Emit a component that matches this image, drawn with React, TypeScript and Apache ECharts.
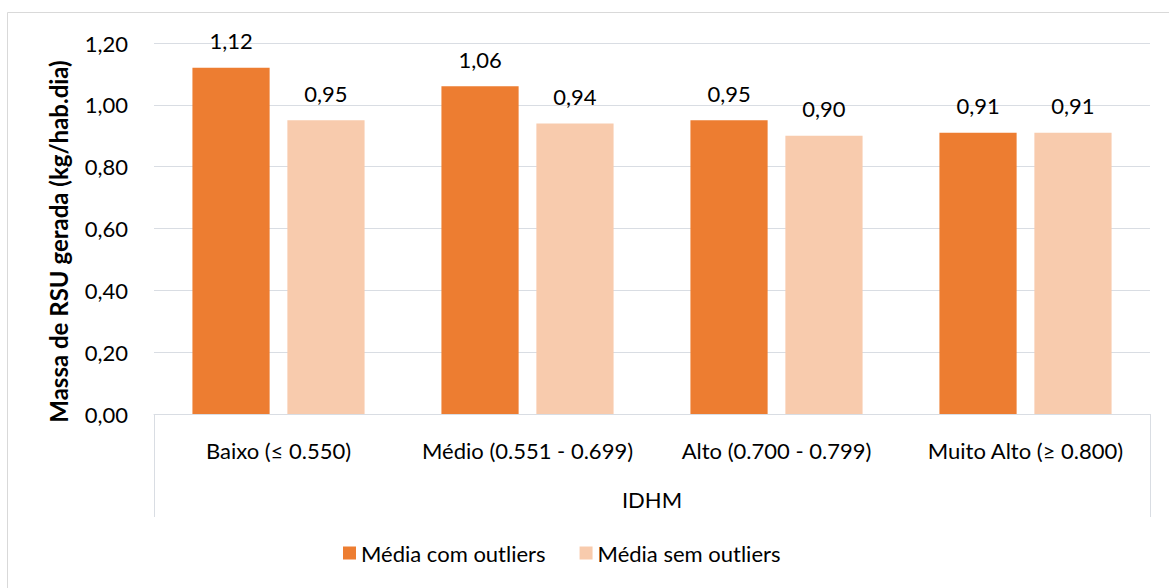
import React, { useEffect, useRef } from "react";
import * as echarts from "echarts";

const categories = [
  "Baixo (≤ 0.550)",
  "Médio (0.551 - 0.699)",
  "Alto (0.700 - 0.799)",
  "Muito Alto (≥ 0.800)",
];
const groupLabel = ["IDHM"];
const seriesNames = ["Média com outliers", "Média sem outliers"];
const comOutliers = [1.12, 1.06, 0.95, 0.91];
const semOutliers = [0.95, 0.94, 0.9, 0.91];
const yTitle = "Massa de RSU gerada (kg/hab.dia)";

const FONT = "Lato, 'Noto Sans', sans-serif";
const FS = 22;
const fmt = (v: number) => v.toFixed(2).replace(".", ",");

export default function App() {
  const ref = useRef<HTMLDivElement>(null);
  useEffect(() => {
    if (!ref.current) return;
    const chart = echarts.init(ref.current, undefined, { renderer: "svg" });
    const labelStyle = {
      show: true,
      position: "top" as const,
      distance: 16,
      color: "#000",
      fontSize: FS,
      fontFamily: FONT,
      formatter: (p: any) => fmt(p.value),
    };
    chart.setOption({
      animation: false,
      backgroundColor: "#fff",
      textStyle: { fontFamily: FONT },
      graphic: [
        {
          type: "rect",
          shape: { x: 7.5, y: 12.5, width: 1200, height: 700 },
          style: { fill: "none", stroke: "#d9d9d9", lineWidth: 1 },
          silent: true,
        },
      ],
      grid: { left: 154, right: 19, top: 43, bottom: 174 },
      legend: {
        left: 343,
        top: 542,
        padding: 0,
        itemWidth: 13,
        itemHeight: 13,
        itemGap: 34,
        icon: "rect",
        textStyle: { fontSize: FS, color: "#000", fontFamily: FONT },
        data: seriesNames,
      },
      xAxis: [
        {
          type: "category",
          data: categories,
          position: "bottom",
          axisLine: { show: true, lineStyle: { color: "#d9dde3", width: 1 } },
          axisTick: { show: false },
          axisLabel: {
            color: "#000",
            fontSize: FS,
            fontFamily: FONT,
            margin: 25,
            interval: 0,
          },
        },
        {
          type: "category",
          data: groupLabel,
          position: "bottom",
          axisLine: { show: false },
          axisTick: {
            show: true,
            inside: false,
            length: 103,
            lineStyle: { color: "#d9dde3", width: 1 },
          },
          axisLabel: {
            color: "#000",
            fontSize: FS,
            fontFamily: FONT,
            margin: 74,
          },
        },
      ],
      yAxis: {
        type: "value",
        min: 0,
        max: 1.2,
        interval: 0.2,
        name: yTitle,
        nameLocation: "middle",
        nameGap: 84,
        nameTextStyle: {
          fontSize: 24,
          fontWeight: "bold",
          color: "#000",
          fontFamily: FONT,
          padding: [0, 26, 0, 0],
        },
        axisLine: { show: false },
        axisTick: { show: false },
        axisLabel: {
          color: "#000",
          fontSize: FS,
          fontFamily: FONT,
          margin: 26,
          formatter: (v: number) => fmt(v),
        },
        splitLine: { lineStyle: { color: "#d9dde3", width: 1 } },
      },
      series: [
        {
          name: seriesNames[0],
          type: "bar",
          data: comOutliers,
          barWidth: "31%",
          barGap: "23%",
          itemStyle: { color: "#ed7d31" },
          label: labelStyle,
        },
        {
          name: seriesNames[1],
          type: "bar",
          data: semOutliers,
          barWidth: "31%",
          barGap: "23%",
          itemStyle: { color: "#f8cbad" },
          label: labelStyle,
        },
      ],
    });
    return () => chart.dispose();
  }, []);
  return (
    <div
      ref={ref}
      style={{ position: "fixed", left: 0, top: 0, width: 1169, height: 588 }}
    />
  );
}
